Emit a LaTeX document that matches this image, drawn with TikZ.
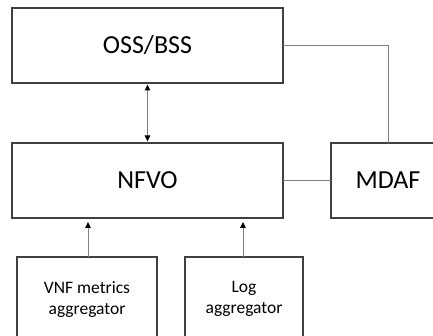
\documentclass[tikz,border=0pt]{standalone}
\usepackage{fontspec}
\setmainfont{Carlito}
\usetikzlibrary{arrows.meta}
\definecolor{boxline}{HTML}{404040}
\definecolor{linkline}{HTML}{808080}
\begin{document}
\begin{tikzpicture}[x=1pt,y=-1pt,
  block/.style={draw=boxline,line width=1.4pt,fill=white,inner sep=0pt,outer sep=0pt,
    align=center,font=\fontsize{26}{30}\selectfont},
  smallblock/.style={block,font=\fontsize{17.5}{21}\selectfont},
  link/.style={draw=linkline,line width=1pt},
  tip/.style={-{Triangle[length=6pt,width=5.5pt,black]}},
  bitip/.style={{Triangle[length=6pt,width=5.5pt,black]}-{Triangle[length=6pt,width=5.5pt,black]}}
]
\useasboundingbox (0,0) rectangle (433,336);
\clip (0,0) rectangle (433,336);
\fill[white] (0,0) rectangle (433,336);

% main blocks
\node[block,minimum width=271pt,minimum height=75pt] (oss)  at (147.5,45.5)  {OSS/BSS};
\node[block,minimum width=271pt,minimum height=75pt] (nfvo) at (147.5,180.5) {NFVO};
\node[block,minimum width=114pt,minimum height=75pt] (mdaf) at (388,180.5)   {MDAF};

% data sources
\node[smallblock,minimum width=140pt,minimum height=84pt] (vnf) at (87,299)  {VNF metrics\\aggregator};
\node[smallblock,minimum width=118pt,minimum height=84pt] (log) at (244,299) {Log\\aggregator};

% connectors
\draw[link,bitip,shorten <=1.5pt,shorten >=1.5pt] (oss.south) -- (nfvo.north);
\draw[link] (oss.east) -| (mdaf.north);
\draw[link] (nfvo.east) -- (mdaf.west);
\draw[link,tip,shorten >=4pt] ([xshift=1pt]vnf.north) -- ([xshift=1pt]vnf.north |- nfvo.south);
\draw[link,tip,shorten >=4pt] ([xshift=-1pt]log.north) -- ([xshift=-1pt]log.north |- nfvo.south);
\end{tikzpicture}
\end{document}
